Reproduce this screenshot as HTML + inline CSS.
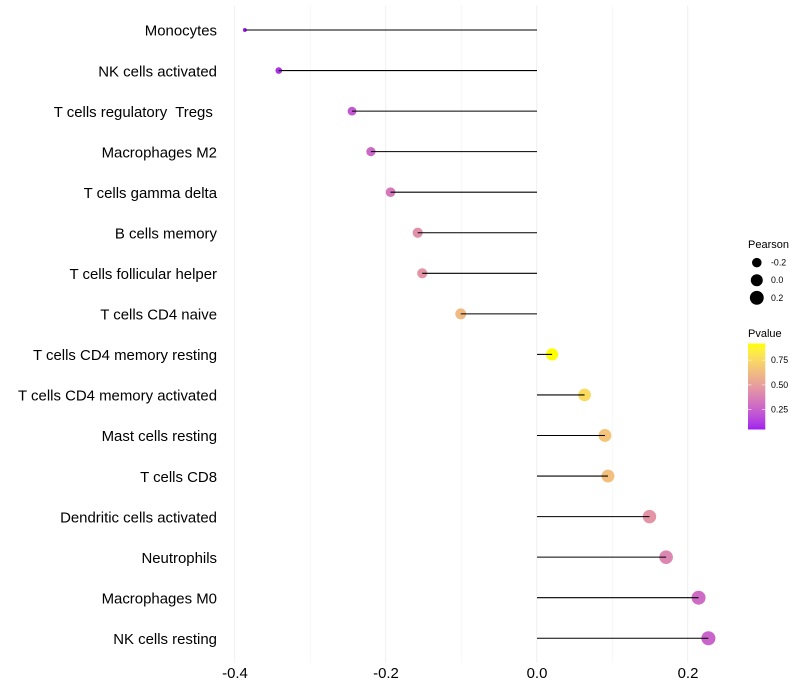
<!DOCTYPE html>
<html lang="en">
<head>
<meta charset="utf-8">
<title>Immune cell correlation lollipop chart</title>
<style>
html,body{margin:0;padding:0;background:#fff;}
svg{display:block;font-family:"Liberation Sans",Arial,sans-serif;}
text{white-space:pre;}
</style>
</head>
<body>
<svg id="chart" width="800" height="700" viewBox="0 0 800 700"></svg>
<script>
const categories = ["Monocytes","NK cells activated","T cells regulatory  Tregs ","Macrophages M2","T cells gamma delta","B cells memory","T cells follicular helper","T cells CD4 naive","T cells CD4 memory resting","T cells CD4 memory activated","Mast cells resting","T cells CD8","Dendritic cells activated","Neutrophils","Macrophages M0","NK cells resting"];
const pearsonValues = [-0.387,-0.342,-0.245,-0.22,-0.194,-0.158,-0.152,-0.101,0.02,0.063,0.09,0.094,0.149,0.171,0.214,0.227];
const pValues = [0.05,0.09,0.22,0.28,0.34,0.44,0.46,0.62,0.918,0.76,0.66,0.64,0.46,0.40,0.29,0.26];
const xMajorTicks = [-0.4,-0.2,0,0.2];
const xMinorTicks = [-0.3,-0.1,0.1];
const xTickLabels = ["-0.4","-0.2","0.0","0.2"];
const sizeLegendValues = [-0.2,0,0.2];
const sizeLegendLabels = ["-0.2","0.0","0.2"];
const colorLegendValues = [0.75,0.5,0.25];
const colorLegendLabels = ["0.75","0.50","0.25"];

const NS = "http://www.w3.org/2000/svg";
const svg = document.getElementById("chart");
function make(tag, attrs, parent, txt){
  const el = document.createElementNS(NS, tag);
  for (const k in attrs) el.setAttribute(k, attrs[k]);
  if (txt !== undefined) el.textContent = txt;
  (parent || svg).appendChild(el);
  return el;
}
const xScale = v => 537 + v * 755;
const yScale = i => 30 + i * 40.55;
const pearsonMin = Math.min(...pearsonValues), pearsonMax = Math.max(...pearsonValues);
const radius = v => 1.95 + 5.1 * Math.sqrt(Math.max(0, (v - pearsonMin) / (pearsonMax - pearsonMin)));
const pMin = Math.min(...pValues), pMax = Math.max(...pValues);

function rgb2lab(c){
  const f = u => { u/=255; return u>0.04045?Math.pow((u+0.055)/1.055,2.4):u/12.92; };
  const r=f(c[0]),g=f(c[1]),b=f(c[2]);
  const X=(0.4124*r+0.3576*g+0.1805*b)/0.95047,Y=0.2126*r+0.7152*g+0.0722*b,Z=(0.0193*r+0.1192*g+0.9505*b)/1.08883;
  const h = t => t>0.008856?Math.cbrt(t):7.787*t+16/116;
  return [116*h(Y)-16,500*(h(X)-h(Y)),200*(h(Y)-h(Z))];
}
function lab2rgb(l){
  const fy=(l[0]+16)/116,fx=fy+l[1]/500,fz=fy-l[2]/200;
  const h = t => t*t*t>0.008856?t*t*t:(t-16/116)/7.787;
  const X=h(fx)*0.95047,Y=h(fy),Z=h(fz)*1.08883;
  const lin=[3.2406*X-1.5372*Y-0.4986*Z,-0.9689*X+1.8758*Y+0.0415*Z,0.0557*X-0.204*Y+1.057*Z];
  return lin.map(u=>{u=Math.max(0,Math.min(1,u));return Math.round(255*(u>0.0031308?1.055*Math.pow(u,1/2.4)-0.055:12.92*u));});
}
const labLow = rgb2lab([160,32,240]), labHigh = rgb2lab([255,255,0]);
function colorAt(t){
  t = Math.max(0, Math.min(1, t));
  const c = lab2rgb(labLow.map((v,i)=>v+(labHigh[i]-v)*t));
  return "rgb("+c.join(",")+")";
}
const colorScale = p => colorAt((p - pMin) / (pMax - pMin));

const panelTop = 5.7, panelBottom = 662.7;

const gridGroup = make("g", {});


xMinorTicks.forEach(v => {
  const l = make("line", {x1:xScale(v)-0.3,x2:xScale(v)-0.3,y1:panelTop,y2:panelBottom,stroke:"#f0f0f0","stroke-width":0.55}, gridGroup);
  
  
});
xMajorTicks.forEach(v => {
  const l = make("line", {x1:xScale(v)-0.3,x2:xScale(v)-0.3,y1:panelTop,y2:panelBottom,stroke:"#f0f0f0","stroke-width":1.07}, gridGroup);
  
  
});

categories.forEach((name, i) => {
  const y = yScale(i), v = pearsonValues[i];
  const point = make("circle", {cx:xScale(v),cy:y,r:radius(v),fill:colorScale(pValues[i])});
  
  
  const stem = make("line", {x1:xScale(0),x2:xScale(v),y1:y,y2:y,stroke:"#000","stroke-width":1.07});
  
  
  const lab = make("text", {x:217,y:y+5.7,"text-anchor":"end","font-size":14.95,fill:"#000"}, svg, name);
  
  
});

xTickLabels.forEach((t, i) => {
  const lab = make("text", {x:xScale(xMajorTicks[i]),y:678,"text-anchor":"middle","font-size":14.95,fill:"#000"}, svg, t);
  
  
});

const pearsonTitle = make("text", {x:748,y:248,"font-size":11,fill:"#000"}, svg, "Pearson");


sizeLegendValues.forEach((v, i) => {
  const y = 262.6 + i * 17.6;
  const dot = make("circle", {cx:756.8,cy:y,r:radius(v),fill:"#000"});
  
  
  const lab = make("text", {x:771,y:y+3,"font-size":8.8,fill:"#000"}, svg, sizeLegendLabels[i]);
  
  
});

const pvalueTitle = make("text", {x:748,y:337,"font-size":11,fill:"#000"}, svg, "Pvalue");


const defs = make("defs", {});
const grad = make("linearGradient", {id:"pv",x1:0,y1:1,x2:0,y2:0}, defs);
for (let k = 0; k <= 20; k++) make("stop", {offset:k/20,"stop-color":colorAt(k/20)}, grad);
const barTop = 343.5, barBottom = 429.5;
const bar = make("rect", {x:748,y:barTop,width:17.3,height:barBottom-barTop,fill:"url(#pv)"});


const barY = p => barBottom - (p - pMin) / (pMax - pMin) * (barBottom - barTop);
colorLegendValues.forEach((p, i) => {
  const y = barY(p);
  const t1 = make("line", {x1:748,x2:751.5,y1:y,y2:y,stroke:"#fff","stroke-width":0.55});
  
  
  const t2 = make("line", {x1:761.8,x2:765.3,y1:y,y2:y,stroke:"#fff","stroke-width":0.55});
  
  
  const lab = make("text", {x:771,y:y+3,"font-size":8.8,fill:"#000"}, svg, colorLegendLabels[i]);
  
  
});
</script>
</body>
</html>
